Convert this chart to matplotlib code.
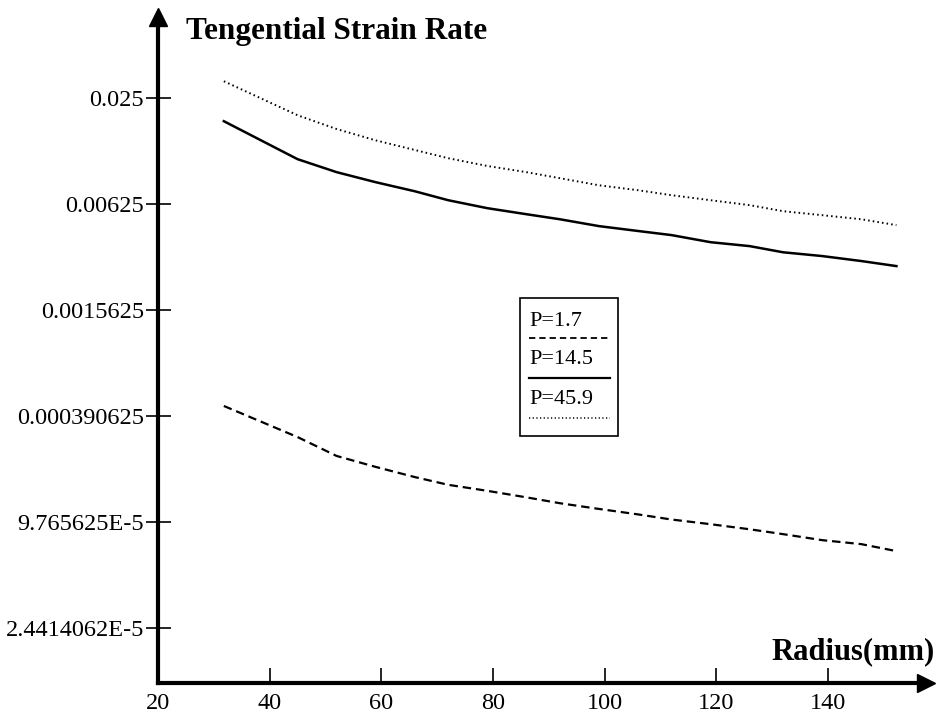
import matplotlib
matplotlib.use("Agg")
import matplotlib.pyplot as plt
from matplotlib.lines import Line2D
from matplotlib.patches import Rectangle
from matplotlib.ticker import FixedLocator, FixedFormatter, NullLocator

# radius positions (mm)
radius = [31.8, 45, 52, 59, 66, 72, 79, 86, 92, 99, 106, 112, 119, 126, 132, 139, 146, 152.3]

# tangential strain rate for each pressure
p_1_7 = [0.000446, 0.000297, 0.000232, 0.000201, 0.000176, 0.000159, 0.000147, 0.000135,
         0.000125, 0.000116, 0.000108, 0.000101, 0.0000950, 0.0000889, 0.0000834,
         0.0000771, 0.0000732, 0.0000668]
p_14_5 = [0.0185, 0.01126, 0.00950, 0.00833, 0.00740, 0.00658, 0.00593, 0.00548, 0.00513,
          0.00469, 0.00440, 0.00417, 0.00380, 0.00361, 0.00333, 0.00317, 0.00297, 0.00278]
p_45_9 = [0.0312, 0.0200, 0.0167, 0.0144, 0.0127, 0.0114, 0.0103, 0.00950, 0.00878,
          0.00800, 0.00750, 0.00703, 0.00658, 0.00617, 0.00570, 0.00541, 0.00513, 0.00475]

y_ticks = [0.025, 0.00625, 0.0015625, 0.000390625, 9.765625e-5, 2.4414062e-5]
y_tick_labels = ["0.025", "0.00625", "0.0015625", "0.000390625", "9.765625E-5", "2.4414062E-5"]
x_ticks = [20, 40, 60, 80, 100, 120, 140]

plt.rcParams["font.family"] = ["Liberation Serif", "DejaVu Serif"]

W, H = 936, 720
fig = plt.figure(figsize=(W / 100, H / 100), dpi=100)
ax = fig.add_axes([158 / W, 1 - 683 / H, (926 - 158) / W, (683 - 17) / H])

ax.plot(radius, p_1_7, color="black", lw=1.6, linestyle=(0, (3.8, 2.2)))
ax.plot(radius, p_14_5, color="black", lw=1.8, linestyle="-")
ax.plot(radius, p_45_9, color="black", lw=1.4, linestyle=(0, (0.8, 1.6)))

ax.set_yscale("log", base=2)
ax.set_xlim(20, 157.6)
ax.set_ylim(1.19e-5, 0.0723)

ax.yaxis.set_major_locator(FixedLocator(y_ticks))
ax.yaxis.set_major_formatter(FixedFormatter(y_tick_labels))
ax.yaxis.set_minor_locator(NullLocator())
ax.set_xticks(x_ticks)

for side in ("top", "right"):
    ax.spines[side].set_visible(False)
for side in ("left", "bottom"):
    ax.spines[side].set_linewidth(3)

ax.tick_params(axis="y", direction="inout", length=18, width=1.2, labelsize=17.5, pad=1)
ax.tick_params(axis="x", direction="in", length=11, width=1.2, labelsize=17.5, pad=7)

# arrow heads at the ends of the axes
ax.plot(1, 0, marker=">", markersize=13, color="black", transform=ax.transAxes, clip_on=False)
ax.plot(0, 1, marker="^", markersize=13, color="black", transform=ax.transAxes, clip_on=False)

fig.text(186 / W, 1 - 32 / H, "Tengential Strain Rate", fontsize=22.5, fontweight="bold",
         ha="left", va="center")
fig.text(935 / W, 1 - 652 / H, "Radius(mm)", fontsize=22, fontweight="bold",
         ha="right", va="center")

# legend: label above a sample of the line
fig.patches.append(Rectangle((520 / W, 1 - 436 / H), 98 / W, 138 / H, transform=fig.transFigure,
                             fill=False, edgecolor="black", lw=1.2))
entries = [("P=1.7", (0, (3.5, 2.2)), 1.3, 338, 321),
           ("P=14.5", "-", 1.6, 378, 360),
           ("P=45.9", (0, (0.8, 1.6)), 1.1, 418, 400)]
for label, style, lw, y_line, y_text in entries:
    fig.text(529 / W, 1 - y_text / H, label, fontsize=16, ha="left", va="center")
    fig.lines.append(Line2D([529 / W, 610 / W], [1 - y_line / H, 1 - y_line / H],
                            transform=fig.transFigure, color="black", lw=lw, linestyle=style))

fig.savefig("out.png", dpi=100)
